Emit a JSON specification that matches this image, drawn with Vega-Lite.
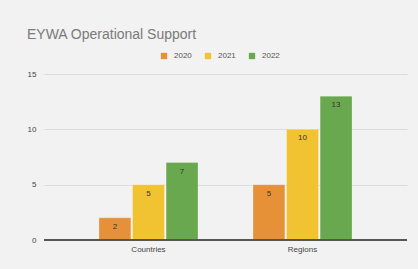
{
  "$schema": "https://vega.github.io/schema/vega-lite/v6.json",
  "width": 363,
  "height": 166,
  "autosize": {"type": "none"},
  "padding": {"left": 44, "top": 74, "right": 11, "bottom": 29},
  "background": "#f2f2f2",
  "title": {
    "text": "EYWA Operational Support",
    "anchor": "start",
    "frame": "group",
    "dx": -17,
    "font": "Arial",
    "fontSize": 14,
    "fontWeight": "normal",
    "color": "#7a7a7a",
    "offset": 10
  },
  "data": {
    "values": [
      {"category": "Countries", "year": "2020", "value": 2},
      {"category": "Countries", "year": "2021", "value": 5},
      {"category": "Countries", "year": "2022", "value": 7},
      {"category": "Regions", "year": "2020", "value": 5},
      {"category": "Regions", "year": "2021", "value": 10},
      {"category": "Regions", "year": "2022", "value": 13}
    ]
  },
  "encoding": {
    "x": {
      "field": "category",
      "type": "nominal",
      "title": null,
      "scale": {"paddingInner": 0.357, "paddingOuter": 0.357},
      "axis": {"labelAngle": 0, "domain": false, "ticks": false, "labelPadding": 5, "labelFont": "Arial", "labelFontSize": 8, "labelColor": "#444"}
    },
    "xOffset": {"field": "year", "type": "nominal", "scale": {"paddingInner": 0.05}},
    "y": {
      "field": "value",
      "type": "quantitative",
      "title": null,
      "scale": {"domain": [0, 15]},
      "axis": {"values": [0, 5, 10, 15], "domain": false, "ticks": false, "labelPadding": 8, "labelFont": "Arial", "labelFontSize": 8, "labelColor": "#444", "gridColor": "#dcdcdc"}
    }
  },
  "layer": [
    {
      "mark": {"type": "bar", "stroke": "#ffffff", "strokeOpacity": 0.5, "strokeWidth": 0.5},
      "encoding": {
        "color": {
          "field": "year",
          "type": "nominal",
          "title": null,
          "scale": {"domain": ["2020", "2021", "2022"], "range": ["#e69138", "#f1c232", "#6aa84f"]},
          "legend": {"orient": "none", "legendX": 116, "legendY": -22, "direction": "horizontal", "symbolType": "square", "symbolSize": 40, "symbolStrokeWidth": 0, "labelFont": "Arial", "labelFontSize": 8, "labelColor": "#555", "labelOffset": 6, "columnPadding": 12}
        }
      }
    },
    {
      "mark": {"type": "text", "baseline": "top", "dy": 5, "font": "Arial", "fontSize": 8, "color": "#333"},
      "encoding": {"text": {"field": "value", "type": "quantitative"}}
    },
    {
      "mark": {"type": "rule", "color": "#555", "strokeWidth": 1},
      "encoding": {"y": {"datum": 0}, "x": null, "xOffset": null}
    }
  ],
  "config": {"view": {"stroke": null}}
}
